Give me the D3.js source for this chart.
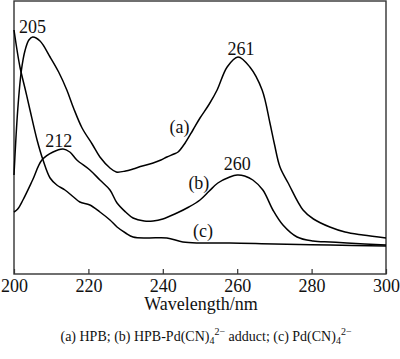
<!DOCTYPE html>
<html>
<head>
<meta charset="utf-8">
<script src="https://cdn.jsdelivr.net/npm/d3@7"></script>
<style>
  body { margin: 0; background: #fff; }
  svg text { font-family: "Liberation Serif", "Times New Roman", serif; fill: #111; }
</style>
</head>
<body>
<svg id="chart" width="400" height="359"></svg>
<script>
// ---- data (absorbance in arbitrary units)
var waveA = [200, 201, 202, 203, 204, 205, 207, 209.7, 212, 214.2, 216, 218.3, 221, 223.1, 225.8, 227.5, 230, 232, 234.5, 237.4, 239.5, 241.1, 243, 244.1, 246, 248.1, 250, 252.5, 254.6, 257.3, 260.2, 263.4, 266.7, 268.8, 270, 271.5, 273.7, 277.7, 280.5, 284.9, 289, 293.8, 300];
var absA  = [0.99, 1.64, 2.04, 2.24, 2.34, 2.37, 2.33, 2.17, 2.02, 1.84, 1.66, 1.46, 1.30, 1.17, 1.06, 1.02, 1.03, 1.05, 1.08, 1.11, 1.14, 1.17, 1.20, 1.22, 1.31, 1.44, 1.56, 1.70, 1.84, 2.07, 2.17, 2.07, 1.84, 1.51, 1.30, 1.07, 0.91, 0.64, 0.55, 0.47, 0.42, 0.39, 0.36];

var waveB = [200, 201, 202.4, 205, 207.5, 210.5, 213.2, 215, 216.9, 220.4, 223.1, 225.8, 227.7, 230, 232, 235, 237.4, 240, 243.8, 247, 250, 252.5, 254.8, 258, 260, 262, 264.2, 266.9, 269.6, 272.3, 276.1, 280.4, 285, 289.5, 300];
var absB  = [0.62, 0.65, 0.74, 0.94, 1.14, 1.22, 1.25, 1.22, 1.14, 1.04, 0.94, 0.84, 0.71, 0.62, 0.56, 0.53, 0.53, 0.55, 0.61, 0.67, 0.74, 0.83, 0.91, 0.97, 0.99, 0.98, 0.94, 0.84, 0.64, 0.49, 0.37, 0.33, 0.32, 0.31, 0.29];

var waveC = [200, 201.6, 203, 204.3, 206.2, 207.8, 209.7, 211.5, 213.7, 216, 217.7, 220.4, 223.1, 225.8, 227.7, 230, 232, 236, 241.1, 245.4, 250, 258, 270, 285, 300];
var absC  = [2.44, 2.07, 1.85, 1.64, 1.34, 1.14, 0.96, 0.89, 0.84, 0.77, 0.72, 0.69, 0.62, 0.54, 0.47, 0.41, 0.37, 0.36, 0.36, 0.32, 0.31, 0.31, 0.30, 0.29, 0.28];

var xTicks = [200, 220, 240, 260, 280, 300];

// peak labels: [wavelength, absorbance at label baseline, text]
var peakWave  = [205, 212, 261, 260];
var peakLevel = [2.41, 1.27, 2.19, 1.04];
var peakText  = ["205", "212", "261", "260"];

var seriesNames = ["(a)", "(b)", "(c)"];
var seriesLabelWave  = [244.5, 249.7, 250.8];
var seriesLabelLevel = [1.41, 0.85, 0.37];

// ---- layout
var margin = {top: 1, right: 14, bottom: 85, left: 14};
var width = 400 - margin.left - margin.right;
var height = 359 - margin.top - margin.bottom;

var svg = d3.select('#chart')
  .append('g')
  .attr('transform', 'translate(' + margin.left + ',' + margin.top + ')');

var xScale = d3.scaleLinear().domain([200, 300]).range([0, width]);
var yScale = d3.scaleLinear().domain([0, 2.73]).range([height, 0]);

// frame
svg.append('rect')
  .attr('x', 0).attr('y', 0)
  .attr('width', width).attr('height', height)
  .attr('fill', 'none')
  .attr('stroke', '#333')
  .attr('stroke-width', 1.4);

// bottom axis, ticks pointing inward
var xAxis = d3.axisBottom(xScale)
  .tickValues(xTicks)
  .tickSize(-5)
  .tickPadding(5)
  .tickFormat(d3.format('d'));

var gx = svg.append('g')
  .attr('transform', 'translate(0,' + height + ')')
  .call(xAxis);
gx.select('.domain').remove();
gx.selectAll('line').attr('stroke', '#333').attr('stroke-width', 1.2);
gx.selectAll('text')
  .attr('font-size', 18)
  .attr('fill', '#111')
  .style('font-family', '"Liberation Serif", serif');

svg.append('text')
  .attr('x', width / 2 + 1)
  .attr('y', height + 36)
  .attr('text-anchor', 'middle')
  .attr('font-size', 18)
  .text('Wavelength/nm');

// curves
var line = d3.line()
  .x(function(d) { return xScale(d[0]); })
  .y(function(d) { return yScale(d[1]); })
  .curve(d3.curveCatmullRom.alpha(0.5));

[[waveA, absA], [waveB, absB], [waveC, absC]].forEach(function(s) {
  svg.append('path')
    .datum(d3.zip(s[0], s[1]))
    .attr('fill', 'none')
    .attr('stroke', '#000')
    .attr('stroke-width', 1.5)
    .attr('d', line);
});

// peak labels
peakText.forEach(function(t, i) {
  svg.append('text')
    .attr('x', xScale(peakWave[i]))
    .attr('y', yScale(peakLevel[i]))
    .attr('text-anchor', 'middle')
    .attr('font-size', 18)
    .text(t);
});

// series labels
seriesNames.forEach(function(t, i) {
  svg.append('text')
    .attr('x', xScale(seriesLabelWave[i]))
    .attr('y', yScale(seriesLabelLevel[i]))
    .attr('text-anchor', 'middle')
    .attr('font-size', 18)
    .text(t);
});

// caption
var cap = svg.append('text')
  .attr('x', 192)
  .attr('y', height + 67)
  .attr('text-anchor', 'middle')
  .attr('font-size', 14);
cap.append('tspan').text('(a) HPB; (b) HPB-Pd(CN)');
cap.append('tspan').attr('font-size', 10).attr('dy', 3).text('4');
cap.append('tspan').attr('font-size', 10).attr('dy', -9).text('2\u2212');
cap.append('tspan').attr('dy', 6).text(' adduct; (c) Pd(CN)');
cap.append('tspan').attr('font-size', 10).attr('dy', 3).text('4');
cap.append('tspan').attr('font-size', 10).attr('dy', -9).text('2\u2212');
</script>
</body>
</html>
